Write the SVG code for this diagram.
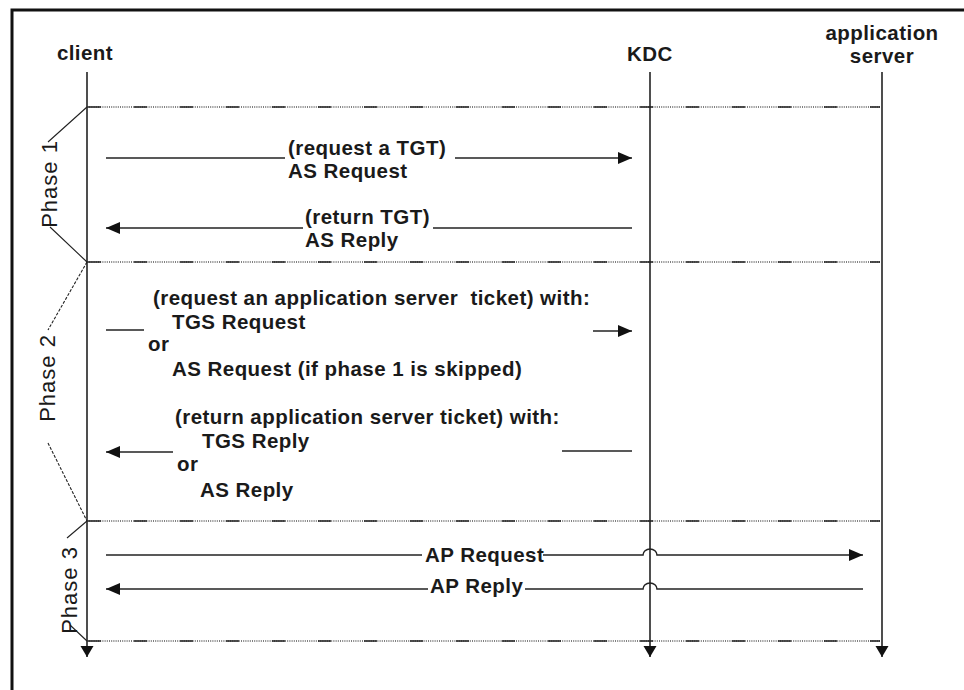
<svg xmlns="http://www.w3.org/2000/svg" width="964" height="690" viewBox="0 0 964 690">
  <style>
    .hdr, .msg { font-family: "Liberation Sans", Arial, sans-serif; font-weight: bold; font-size: 20.5px; letter-spacing: 0.45px; fill: #1a1a1a; }
    .hdr { text-anchor: middle; }
    .phase { font-family: "Liberation Sans", Arial, sans-serif; font-size: 22px; letter-spacing: 1px; fill: #1a1a1a; text-anchor: middle; }
    .life { stroke: #222; stroke-width: 1.6; fill: none; }
    .wire { stroke: #222; stroke-width: 1.5; fill: none; }
    .brace { stroke: #222; stroke-width: 1.1; fill: none; }
    .dots { stroke: #555; stroke-width: 1.3; stroke-dasharray: 1 1.2; fill: none; }
    .dash { stroke: #222; stroke-width: 1.7; stroke-dasharray: 13 33; fill: none; }
  </style>
  <defs>
    <marker id="arrow" markerUnits="userSpaceOnUse" markerWidth="16" markerHeight="14" refX="14" refY="6" orient="auto">
      <path d="M0,0 L14,6 L0,12 z" fill="#111"/>
    </marker>
    <marker id="arrowDown" markerUnits="userSpaceOnUse" markerWidth="14" markerHeight="14" refX="11" refY="6.5" orient="auto">
      <path d="M0,0 L11,6.5 L0,13 z" fill="#111"/>
    </marker>
  </defs>

  <rect width="964" height="690" fill="#fff"/>
  <!-- frame -->
  <path d="M12,700 V10 H975" fill="none" stroke="#111" stroke-width="3"/>

  <!-- phase separators -->
  <g id="separators">
    <path class="dots" d="M87,107 H880 M87,262 H880 M87,521 H880 M87,641 H880"/>
    <path class="dash" d="M88,107 H880 M88,262 H880 M88,521 H880 M88,641 H880"/>
  </g>

  <!-- participants -->
  <g id="client">
    <text class="hdr" x="85" y="60">client</text>
    <path class="life" d="M87,72 V657" marker-end="url(#arrowDown)"/>
  </g>
  <g id="kdc">
    <text class="hdr" x="650" y="61">KDC</text>
    <path class="life" d="M650,72 V657" marker-end="url(#arrowDown)"/>
  </g>
  <g id="app-server">
    <text class="hdr" x="882" y="40">application</text>
    <text class="hdr" x="882" y="63">server</text>
    <path class="life" d="M882,72 V657" marker-end="url(#arrowDown)"/>
  </g>

  <!-- phase labels -->
  <g id="phase1">
    <path class="brace" d="M87,107 L48,142 M50,227 L87,262"/>
    <text class="phase" transform="translate(57,184) rotate(-90)">Phase 1</text>
  </g>
  <g id="phase2">
    <path class="brace" stroke-dasharray="3 1.5" d="M87,262 L48,330 M48,443 L87,521"/>
    <text class="phase" transform="translate(55,378) rotate(-90)">Phase 2</text>
  </g>
  <g id="phase3">
    <path class="brace" d="M87,521 L67,538 M70,625 L87,641"/>
    <text class="phase" transform="translate(77,590) rotate(-90)">Phase 3</text>
  </g>

  <!-- messages -->
  <g id="connectors">
    <!-- AS request / reply -->
    <path class="wire" d="M106,158 H285"/>
    <path class="wire" d="M455,158 H632" marker-end="url(#arrow)"/>
    <text class="msg" x="288" y="155">(request a TGT)</text>
    <text class="msg" x="288" y="178">AS Request</text>

    <path class="wire" d="M303,228 H106" marker-end="url(#arrow)"/>
    <path class="wire" d="M433,228 H632"/>
    <text class="msg" x="305" y="224">(return TGT)</text>
    <text class="msg" x="305" y="247">AS Reply</text>

    <!-- TGS request / reply -->
    <path class="wire" d="M106,330 H144"/>
    <path class="wire" d="M593,331 H632" marker-end="url(#arrow)"/>
    <text class="msg" x="153" y="305" xml:space="preserve">(request an application server  ticket) with:</text>
    <text class="msg" x="172" y="329">TGS Request</text>
    <text class="msg" x="148" y="351">or</text>
    <text class="msg" x="172" y="376">AS Request (if phase 1 is skipped)</text>

    <path class="wire" d="M173,452 H106" marker-end="url(#arrow)"/>
    <path class="wire" d="M562,451 H632"/>
    <text class="msg" x="175" y="424">(return application server ticket) with:</text>
    <text class="msg" x="202" y="448">TGS Reply</text>
    <text class="msg" x="177" y="471">or</text>
    <text class="msg" x="200" y="497">AS Reply</text>

    <!-- AP request / reply, hopping over the KDC lifeline -->
    <path class="wire" d="M106,555 H422"/>
    <path class="wire" d="M543,555 H643 A7,6 0 0 1 657,555 H863" marker-end="url(#arrow)"/>
    <text class="msg" x="425" y="562">AP Request</text>

    <path class="wire" d="M428,589 H106" marker-end="url(#arrow)"/>
    <path class="wire" d="M863,589 H657 A7,6 0 0 0 643,589 H525"/>
    <text class="msg" x="430" y="593">AP Reply</text>
  </g>
</svg>
